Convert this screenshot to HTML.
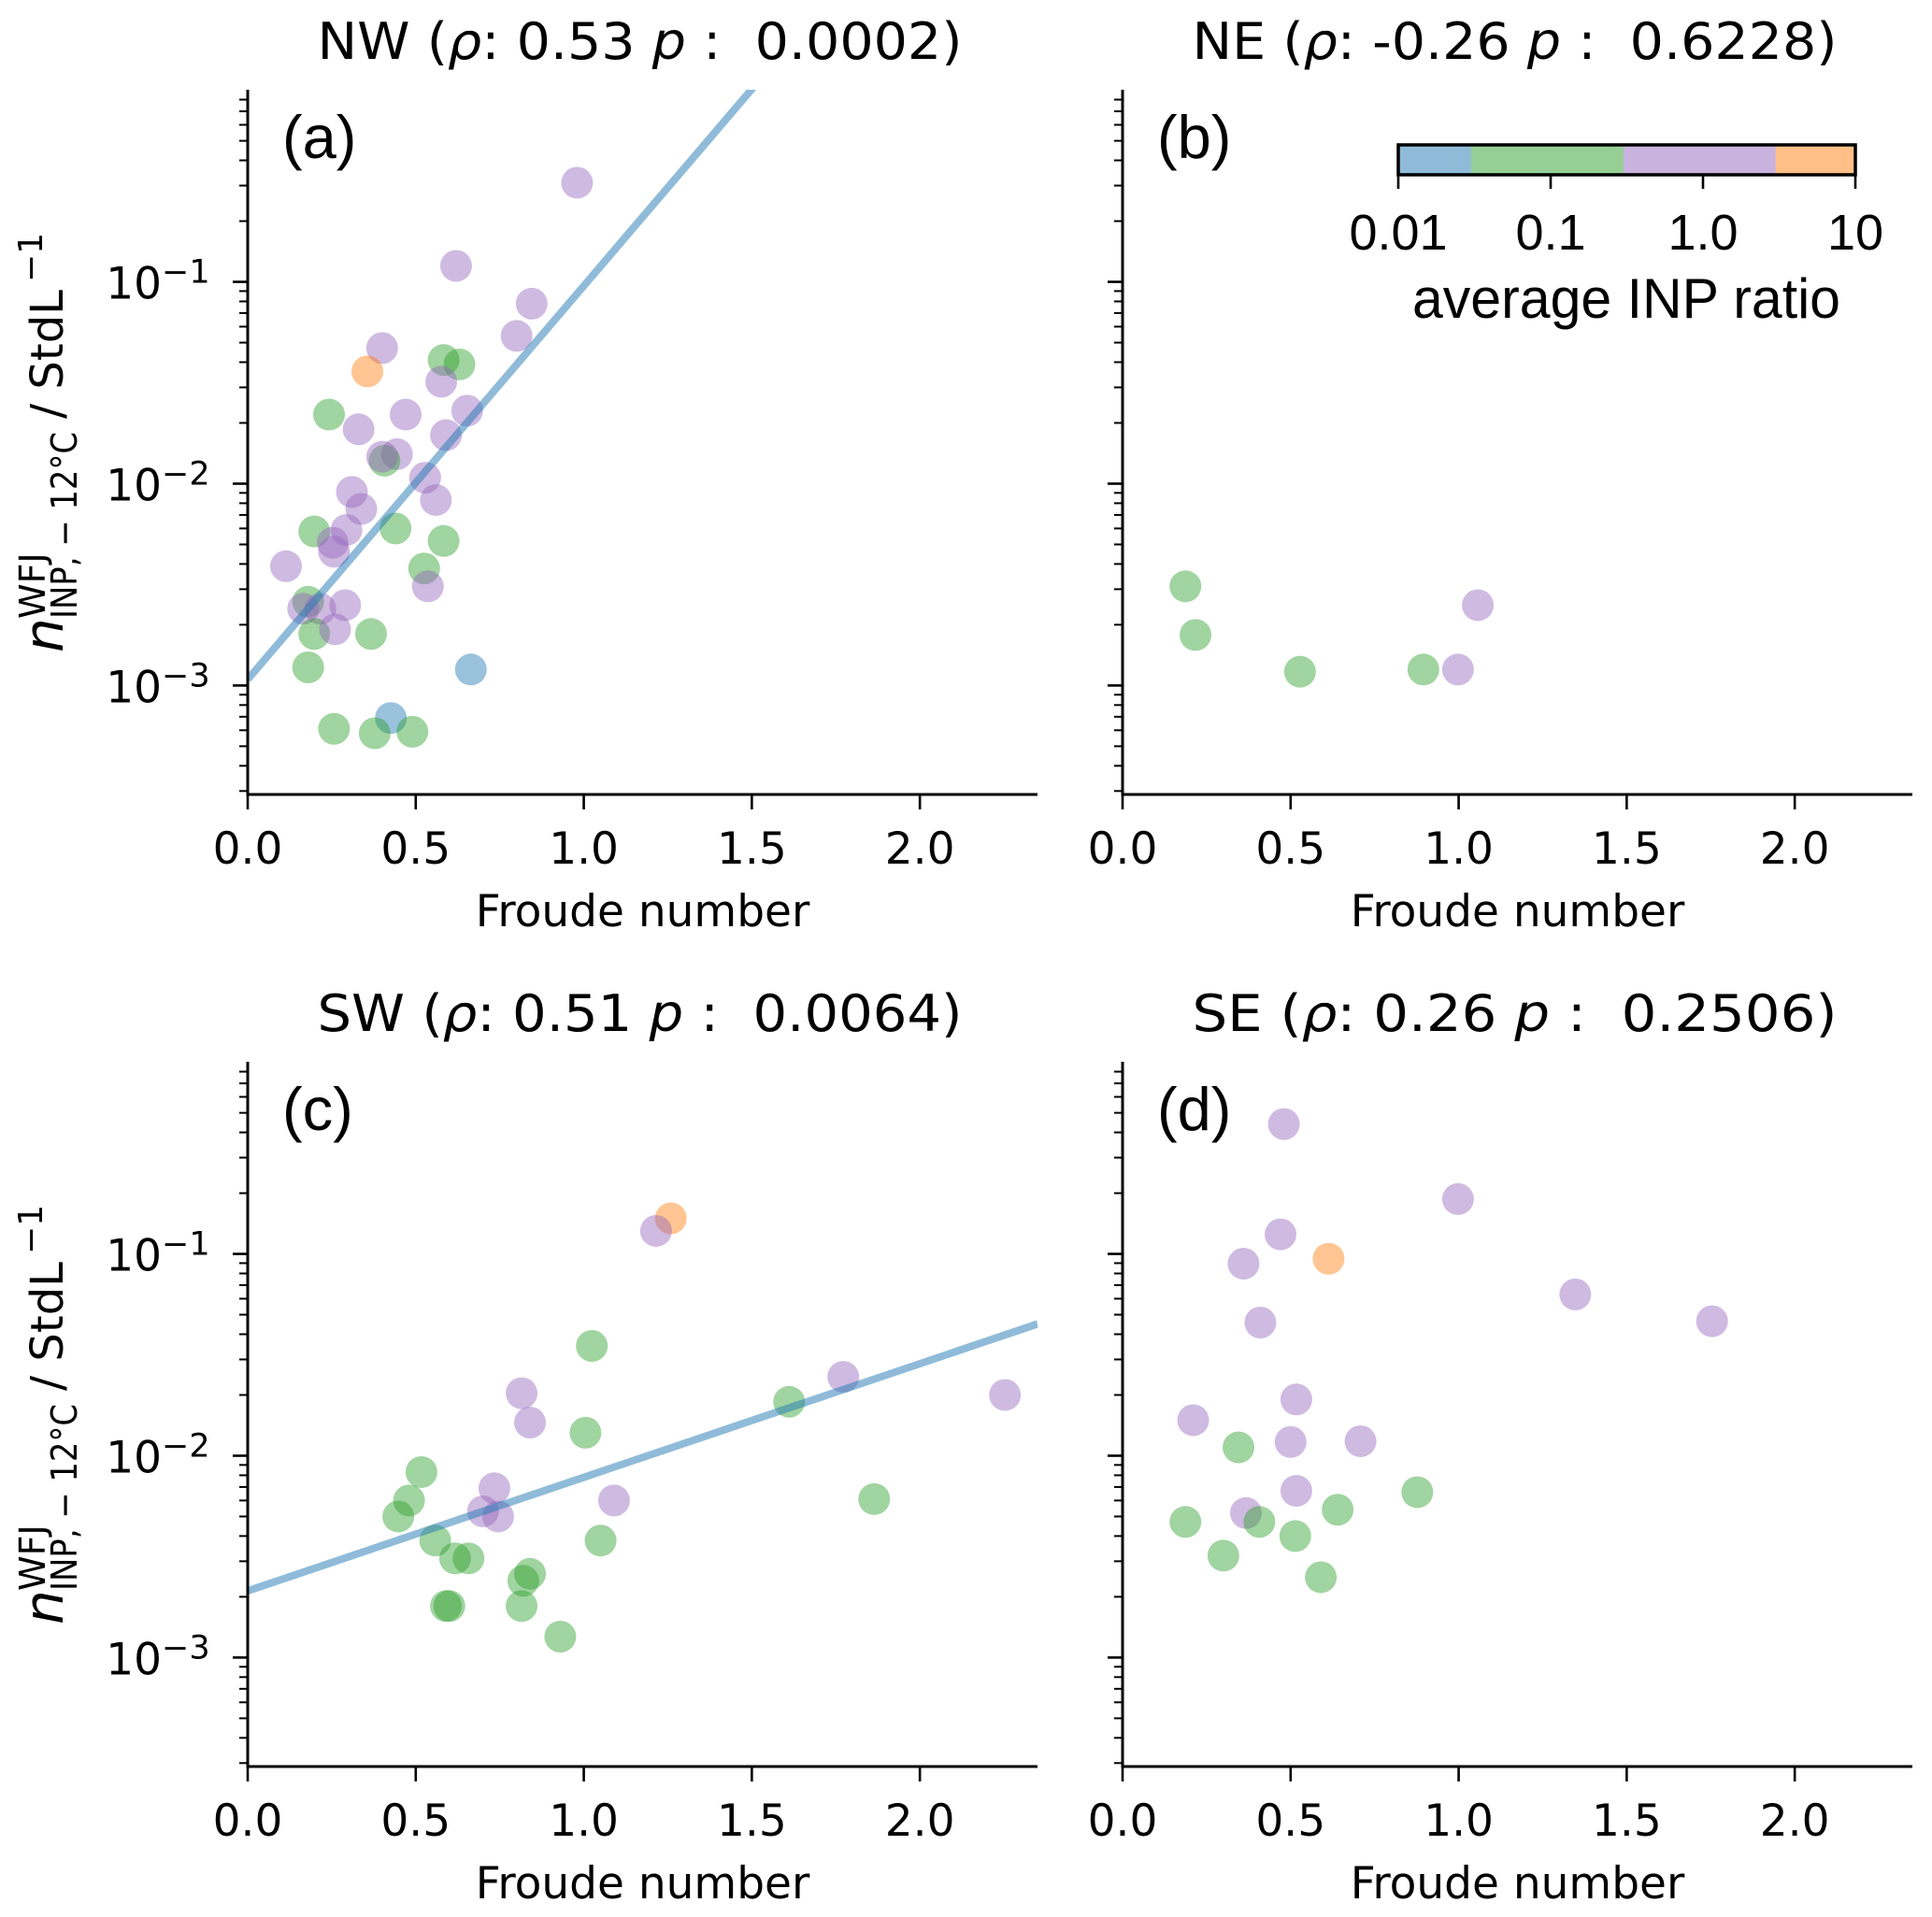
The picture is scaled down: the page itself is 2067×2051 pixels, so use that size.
<!DOCTYPE html>
<html><head><meta charset="utf-8"><style>
html,body{margin:0;padding:0;background:#fff;}
svg{display:block;}
text{font-family:"DejaVu Sans","Liberation Sans",sans-serif;fill:#000;}
.lib{font-family:"Liberation Sans","DejaVu Sans",sans-serif;}
</style></head><body>
<svg id="fig" width="2067" height="2051" viewBox="0 0 2067 2051" xmlns="http://www.w3.org/2000/svg"></svg>
<script>
// ---- data (Froude number, n_INP, INP ratio category) ----
const nwX = [0.98,0.62,0.845,0.80,0.40,0.356,0.583,0.63,0.576,0.242,0.47,0.653,0.33,0.59,0.444,0.407,0.40,0.528,0.56,0.31,0.338,0.198,0.44,0.294,0.583,0.253,0.257,0.114,0.525,0.536,0.18,0.165,0.216,0.29,0.198,0.26,0.367,0.18,0.664,0.426,0.257,0.378,0.49];
const nwY = [0.31,0.12,0.078,0.054,0.047,0.036,0.041,0.039,0.032,0.022,0.022,0.023,0.0186,0.0174,0.014,0.013,0.0136,0.0107,0.0083,0.0091,0.0075,0.0058,0.006,0.0059,0.0052,0.0051,0.0046,0.0039,0.0038,0.0031,0.0026,0.0024,0.0024,0.0025,0.0018,0.0019,0.0018,0.00123,0.0012,0.00069,0.00061,0.00058,0.00059];
const nwC = ["p","p","p","p","p","o","g","g","p","g","p","p","p","p","p","g","p","p","p","p","p","g","g","p","g","p","p","p","g","p","g","p","p","p","g","p","g","g","b","b","g","g","g"];
const neX = [0.187,0.217,0.528,0.895,0.998,1.057];
const neY = [0.0031,0.00178,0.00117,0.0012,0.0012,0.0025];
const neC = ["g","g","g","g","p","p"];
const swX = [1.259,1.215,1.024,0.815,1.772,2.253,1.611,0.84,1.005,0.517,1.09,1.864,0.48,0.734,0.70,0.745,0.448,0.558,1.05,0.617,0.657,0.84,0.82,0.59,0.60,0.815,0.93];
const swY = [0.15,0.13,0.035,0.0204,0.0246,0.020,0.0185,0.0146,0.013,0.0083,0.006,0.0061,0.006,0.0069,0.0053,0.0050,0.005,0.0038,0.0038,0.0031,0.0031,0.0026,0.0024,0.0018,0.0018,0.0018,0.00127];
const swC = ["o","p","g","p","p","p","g","p","g","g","p","g","g","p","p","p","g","g","g","g","g","g","g","g","g","g","g"];
const seX = [0.48,0.998,0.47,0.36,0.613,1.347,0.41,1.754,0.517,0.21,0.345,0.5,0.708,0.517,0.877,0.367,0.64,0.187,0.407,0.514,0.30,0.59];
const seY = [0.44,0.187,0.125,0.0895,0.0946,0.063,0.0457,0.0464,0.019,0.015,0.011,0.0117,0.0118,0.0067,0.0066,0.0052,0.0054,0.0047,0.0047,0.0040,0.0032,0.0025];
const seC = ["p","p","p","p","o","p","p","p","p","p","g","p","p","p","g","p","g","g","g","g","g","g"];
// regression lines: log10(y) = a + b*x
const fitNW = [-2.97, 1.95];
const fitSW = [-2.67, 0.563];
const titles = ["NW (\u03c1: 0.53 p :  0.0002)","NE (\u03c1: -0.26 p :  0.6228)","SW (\u03c1: 0.51 p :  0.0064)","SE (\u03c1: 0.26 p :  0.2506)"];
const xTicks = [0, 0.5, 1.0, 1.5, 2.0];
const xTickLabels = ["0.0","0.5","1.0","1.5","2.0"];
const yTickExp = [-1,-2,-3];
const cbTicks = [0.01, 0.1, 1, 10];
const cbTickLabels = ["0.01","0.1","1.0","10"];
const cbBounds = [0.01, 0.03, 0.3, 3, 10];

const COL = {b:"#1f77b4", g:"#2ca02c", p:"#9467bd", o:"#ff7f0e"};
const CBCOL = ["#8fbbd9","#95cf95","#c9b3de","#ffbf86"];
const NS = "http://www.w3.org/2000/svg";
const svg = document.getElementById('fig');
function mk(tag, attrs, parent){ const e=document.createElementNS(NS,tag); for(const k in attrs) e.setAttribute(k,attrs[k]); (parent||svg).appendChild(e); return e; }

const XMAX = 2.35, YLO = -3.54, YHI = -0.048;
const W = 845, H = 754;
const panels = [
  {x0:265, y0:96, X:nwX, Y:nwY, C:nwC, fit:fitNW, t:titles[0], lab:"(a)", ylab:true, name:"panel-nw"},
  {x0:1201, y0:96, X:neX, Y:neY, C:neC, fit:null, t:titles[1], lab:"(b)", ylab:false, name:"panel-ne"},
  {x0:265, y0:1136, X:swX, Y:swY, C:swC, fit:fitSW, t:titles[2], lab:"(c)", ylab:true, name:"panel-sw"},
  {x0:1201, y0:1136, X:seX, Y:seY, C:seC, fit:null, t:titles[3], lab:"(d)", ylab:false, name:"panel-se"}
];

panels.forEach(P => {
  const g = mk('g', {});
  
  
  const sx = v => P.x0 + v / XMAX * W;
  const sy = v => P.y0 + (YHI - Math.log10(v)) / (YHI - YLO) * H;
  const syl = l => P.y0 + (YHI - l) / (YHI - YLO) * H;
  const clip = mk('clipPath', {id:'c'+P.name}, g);
  mk('rect', {x:P.x0, y:P.y0, width:W, height:H}, clip);
  const pg = mk('g', {'clip-path':'url(#c'+P.name+')'}, g);
  P.X.forEach((xv,i) => {
    const c = mk('circle', {cx:sx(xv), cy:sy(P.Y[i]), r:17, fill:COL[P.C[i]], 'fill-opacity':0.45}, pg);
    
    
  });
  if (P.fit){
    const l = mk('line', {x1:sx(0), y1:syl(P.fit[0]), x2:sx(XMAX), y2:syl(P.fit[0]+P.fit[1]*XMAX), stroke:COL.b, 'stroke-opacity':0.5, 'stroke-width':8}, pg);
    
    
  }
  mk('line', {x1:P.x0, y1:P.y0, x2:P.x0, y2:P.y0+H+1.5, stroke:'#000','stroke-width':3}, g);
  mk('line', {x1:P.x0-1.5, y1:P.y0+H, x2:P.x0+W, y2:P.y0+H, stroke:'#000','stroke-width':3}, g);
  xTicks.forEach((t,i) => {
    mk('line', {x1:sx(t), y1:P.y0+H, x2:sx(t), y2:P.y0+H+16, stroke:'#000','stroke-width':2.6}, g);
    const tx = mk('text', {x:sx(t), y:P.y0+H+74, 'font-size':47, 'text-anchor':'middle'}, g);
    tx.textContent = xTickLabels[i];
    
    
  });
  const xl = mk('text', {x:P.x0+W/2, y:P.y0+H+141, 'font-size':47, 'text-anchor':'middle'}, g);
  xl.textContent = "Froude number";
  
  
  for (let d=-4; d<=0; d++){
    for (let m=1; m<10; m++){
      const l = d + Math.log10(m);
      if (l < YLO || l > YHI) continue;
      const len = m===1 ? 16 : 9;
      mk('line', {x1:P.x0-len, y1:syl(l), x2:P.x0, y2:syl(l), stroke:'#000','stroke-width':m===1?2.6:2}, g);
    }
  }
  if (P.ylab){
    yTickExp.forEach(e => {
      const tx = mk('text', {x:P.x0-92, y:syl(e)+18, 'font-size':47, 'text-anchor':'end'}, g);
      tx.textContent = "10";
      
      
      const sp = mk('text', {x:P.x0-92, y:syl(e)+1, 'font-size':35, 'text-anchor':'start'}, g);
      sp.textContent = "\u2212" + Math.abs(e);
      
      
    });
    const cy = P.y0 + 382;
    const yl = mk('g', {transform:'translate(67,'+cy+') rotate(-90)'}, g);
    
    
    const n = mk('text', {x:-220, y:0, 'font-size':58, 'font-style':'italic'}, yl); n.textContent = "n";
    const sub = mk('text', {x:-184, y:15, 'font-size':38, textLength:200, lengthAdjust:'spacingAndGlyphs'}, yl); sub.textContent = "INP, \u2212 12\u00b0C";
    const sup = mk('text', {x:-184, y:-19, 'font-size':38}, yl); sup.textContent = "WFJ";
    const main = mk('text', {x:30, y:0, 'font-size':48}, yl); main.textContent = "/ StdL";
    const e1 = mk('text', {x:176, y:-22, 'font-size':36}, yl); e1.textContent = "\u22121";
  }
  const tt = mk('text', {x:P.x0+W/2-3, y:P.y0-33, 'font-size':54, 'text-anchor':'middle', textLength:690, lengthAdjust:'spacingAndGlyphs'}, g);
  
  
  const parts = P.t.split(/(\u03c1|p(?= :))/);
  tt.innerHTML = parts.map(s => (s==='\u03c1'||s==='p') ? '<tspan font-style="italic">'+s+'</tspan>' : s.replace(/ /g,'\u00a0')).join('');
  const pl = mk('text', {x:P.x0+37, y:P.y0+73, 'font-size':65, class:'lib'}, g);
  pl.textContent = P.lab;
  
  
});

(function(){
  const cb = mk('g', {});
  
  
  const L = 1496, R = 1985, T = 155, B = 187;
  const cx = v => L + (Math.log10(v) + 2) / 3 * (R - L);
  for (let i=0;i<4;i++){
    const r = mk('rect', {x:cx(cbBounds[i]), y:T, width:cx(cbBounds[i+1])-cx(cbBounds[i])+0.5, height:B-T, fill:CBCOL[i]}, cb);
    
    
  }
  mk('rect', {x:L, y:T, width:R-L, height:B-T, fill:'none', stroke:'#000', 'stroke-width':3.5}, cb);
  cbTicks.forEach((t,i) => {
    mk('line', {x1:cx(t), y1:B, x2:cx(t), y2:B+15, stroke:'#000','stroke-width':2.6}, cb);
    const tx = mk('text', {x:cx(t), y:267, 'font-size':54, 'text-anchor':'middle', class:'lib'}, cb);
    tx.textContent = cbTickLabels[i];
    
    
  });
  const ct = mk('text', {x:1740, y:340, 'font-size':60, 'text-anchor':'middle', class:'lib', textLength:458, lengthAdjust:'spacingAndGlyphs'}, cb);
  ct.textContent = "average INP ratio";
  
  
})();
</script>
</body></html>
